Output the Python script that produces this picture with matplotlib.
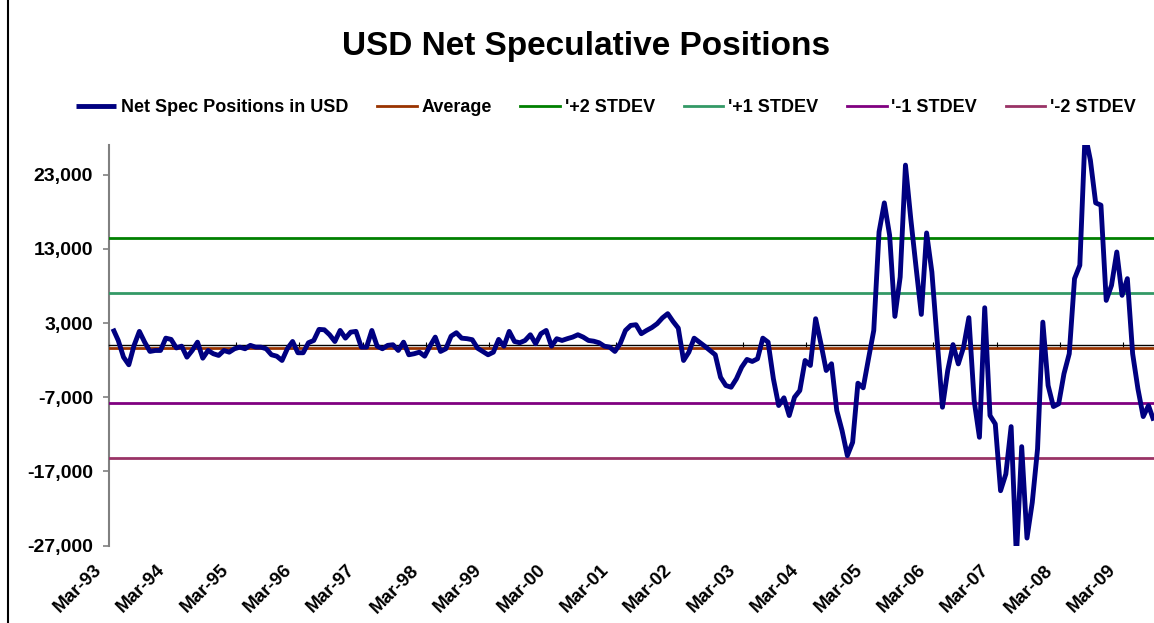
import matplotlib
matplotlib.use("Agg")
import matplotlib.pyplot as plt
from matplotlib.lines import Line2D
from matplotlib.transforms import ScaledTranslation, blended_transform_factory

plt.rcParams['font.family'] = ['Liberation Sans', 'DejaVu Sans']

# ---------------- data ----------------
title = "USD Net Speculative Positions"
series_names = ["Net Spec Positions in USD", "Average", "'+2 STDEV",
                "'+1 STDEV", "'-1 STDEV", "'-2 STDEV"]

# monthly net speculative positions, starting Mar-93
net_spec = [
    2240, 660, -1590, -2620, 0, 1880, 430, -820, -690, -690, 970, 800,
    -350, -110, -1590, -690, 430, -1730, -690, -1130, -1360, -690, -920, -460,
    -240, -460, 0, -240, -240, -460, -1270, -1460, -2040, -460, 520, -1000,
    -1000, 350, 660, 2150, 2100, 1430, 520, 2010, 970, 1780, 1880, -240,
    -240, 2010, -110, -460, 0, 80, -690, 430, -1270, -1130, -920, -1460,
    -100, 1110, -820, -460, 1240, 1700, 970, 900, 760, -380, -820, -1270,
    -920, 800, -110, 1880, 520, 350, 660, 1430, 220, 1570, 2010, -110,
    890, 660, 900, 1110, 1430, 1110, 660, 560, 350, -110, -240, -820,
    220, 2010, 2690, 2780, 1570, 2010, 2400, 2920, 3700, 4270, 3230, 2320,
    -2040, -920, 970, 430, -110, -690, -1270, -4300, -5410, -5640, -4510, -2940,
    -1900, -2170, -1810, 970, 430, -4500, -8110, -7070, -9460, -6990, -6090, -2040,
    -2710, 3590, 220, -3390, -2480, -8790, -11490, -14860, -13070, -5100, -5720, -1810,
    2010, 15280, 19200, 14840, 3900, 9210, 24290, 17090, 10560, 4170, 15150, 9880,
    660, -8340, -3390, 100, -2500, -240, 3730, -7440, -12390, 5070, -9460, -10590,
    -19590, -17340, -10950, -28500, -13650, -25970, -21170, -13960, 3130, -5410, -8250, -7880,
    -3830, -1130, 8990, 10790, 28500, 24960, 19200, 18890, 6060, 8090, 12580, 6740,
    8990, -1130, -5860, -9600, -8110, -10140,
]

average = -400
plus2_stdev = 14430
plus1_stdev = 7020
minus1_stdev = -7820
minus2_stdev = -15230

year_labels = ["Mar-93", "Mar-94", "Mar-95", "Mar-96", "Mar-97", "Mar-98",
               "Mar-99", "Mar-00", "Mar-01", "Mar-02", "Mar-03", "Mar-04",
               "Mar-05", "Mar-06", "Mar-07", "Mar-08", "Mar-09"]
y_ticks = [-27000, -17000, -7000, 3000, 13000, 23000]

# ---------------- layout ----------------
W, H = 1154, 623
fig = plt.figure(figsize=(W / 100, H / 100), dpi=100)
fig.patch.set_facecolor("white")

ax_left, ax_right, ax_top, ax_bottom = 109, 1154, 145, 545.7
ax = fig.add_axes([ax_left / W, 1 - ax_bottom / H,
                   (ax_right - ax_left) / W, (ax_bottom - ax_top) / H])

months = [i + 0.75 for i in range(len(net_spec))]
tick_pos = [12 * i for i in range(len(year_labels))]

ymin, ymax = -27000, 27000
ax.set_ylim(ymin, ymax)
ax.set_xlim(0, (ax_right - ax_left) / (63.4 / 12))

colors = ["#000080", "#993300", "#008000", "#339966", "#800080", "#993366"]

h_net, = ax.plot(months, net_spec, color=colors[0], lw=3.5, zorder=4,
                 solid_joinstyle="round", solid_capstyle="butt")
levels = [average, plus2_stdev, plus1_stdev, minus1_stdev, minus2_stdev]
handles = [h_net]
for lvl, c in zip(levels, colors[1:]):
    h = ax.axhline(lvl, color=c, lw=2.0, zorder=3)
    handles.append(h)

# axes styling
for s in ["top", "right"]:
    ax.spines[s].set_visible(False)
ax.spines["left"].set_color("#808080")
ax.spines["left"].set_linewidth(1.5)
ax.spines["bottom"].set_position(("data", 0))
ax.spines["bottom"].set_color("black")
ax.spines["bottom"].set_linewidth(1.0)
ax.spines["bottom"].set_zorder(3.5)

ax.set_yticks(y_ticks)
ax.set_yticklabels([f"{v:,}" for v in y_ticks])
ax.tick_params(axis="y", direction="out", length=4.5, width=1.2, color="#808080",
               pad=7, labelsize=14)
for lab in ax.get_yticklabels():
    lab.set_fontweight("bold")

ax.set_xticks(tick_pos)
ax.tick_params(axis="x", direction="inout", length=4, width=0.8, color="black",
               labelbottom=False)

trans = blended_transform_factory(ax.transData, ax.transAxes) + \
    ScaledTranslation(-16 / 100, -16 / 100, fig.dpi_scale_trans)
for p, lab in zip(tick_pos, year_labels):
    ax.text(p, 0, lab, transform=trans, rotation=45, rotation_mode="anchor",
            ha="right", va="top", fontsize=13.5, fontweight="bold", clip_on=False)

# title
fig.text(586 / W, 1 - 47 / H, title, ha="center", va="center",
         fontsize=24, fontweight="bold")

# legend
fig.legend(handles, series_names, loc="center",
           bbox_to_anchor=(606 / W, 1 - 108 / H), ncol=6, frameon=False,
           prop=dict(weight="bold", size=13), handlelength=2.2,
           handletextpad=0.25, columnspacing=1.6)

# chart area left border
fig.add_artist(Line2D([7.5 / W, 7.5 / W], [0, 1], color="black", lw=1.5))

fig.savefig("out.png", dpi=100, facecolor="white")
